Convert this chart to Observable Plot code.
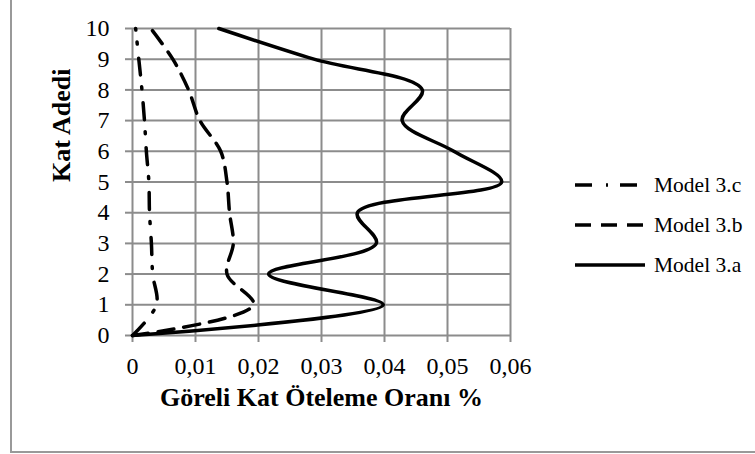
<!DOCTYPE html>
<html>
<head>
<meta charset="utf-8">
<script src="https://cdn.jsdelivr.net/npm/d3@7"></script>
<script src="https://cdn.jsdelivr.net/npm/@observablehq/plot@0.6"></script>
<style>
  html, body { margin: 0; padding: 0; background: #fff; overflow: hidden; width: 755px; height: 454px; }
  #wrap { position: relative; width: 755px; height: 454px; font-family: "Liberation Serif", "Times New Roman", serif; }
  #frame { position: absolute; left: 10px; top: -20px; width: 800px; height: 473px; box-sizing: border-box; border: 2px solid #999; }
  #chart { position: absolute; left: 0; top: 0; }
  #chart svg text { font-size: 24px; }
  #legend { position: absolute; left: 575px; top: 0; }
  .item { position: absolute; left: 0; height: 30px; width: 180px; }
  .item svg { position: absolute; left: 0; top: 0; }
  .item span { position: absolute; left: 79px; top: 0; line-height: 30px; font-size: 21.5px; color: #000; white-space: nowrap; }
</style>
</head>
<body>
<div id="wrap">
  <div id="frame"></div>
  <div id="chart"></div>
  <div id="legend"></div>
</div>
<script>
const floors = [0, 1, 2, 3, 4, 5, 6, 7, 8, 9, 10];
const model3a = [0, 0.0398, 0.0216, 0.0387, 0.0357, 0.0586, 0.0510, 0.0428, 0.0460, 0.0288, 0.0137];
const model3b = [0, 0.0192, 0.0150, 0.0160, 0.0154, 0.0150, 0.0140, 0.0107, 0.0089, 0.0064, 0.0029];
const model3c = [0, 0.0038, 0.0032, 0.0030, 0.0027, 0.0026, 0.0022, 0.0019, 0.0015, 0.0010, 0.0005];
const xTicks = [0, 0.01, 0.02, 0.03, 0.04, 0.05, 0.06];
const yTicks = [0, 1, 2, 3, 4, 5, 6, 7, 8, 9, 10];
const seriesNames = ["Model 3.c", "Model 3.b", "Model 3.a"];
const xTitle = "Göreli Kat Öteleme Oranı %";
const yTitle = "Kat Adedi";

const dashes = {"Model 3.a": null, "Model 3.b": "16,10", "Model 3.c": "17,14,2,12"};
const seriesValues = {"Model 3.a": model3a, "Model 3.b": model3b, "Model 3.c": model3c};

const rows = name => floors.map((f, i) => ({floor: f, value: seriesValues[name][i]}));
const fmt = d => d === 0 ? "0" : d.toFixed(2).replace(".", ",");
const font = '"Liberation Serif", "Times New Roman", serif';

const lineMarks = ["Model 3.a", "Model 3.b", "Model 3.c"].map(name =>
  Plot.line(rows(name), {
    x: "value", y: "floor", curve: "catmull-rom",
    stroke: "#000", strokeWidth: 3.5,
    strokeDasharray: dashes[name] || undefined
  })
);

const chart = Plot.plot({
  width: 755,
  height: 454,
  marginLeft: 132,
  marginRight: 245,
  marginTop: 28,
  marginBottom: 119,
  style: {fontFamily: font, fontSize: "24px", background: "transparent", overflow: "visible"},
  x: {domain: [0, 0.06]},
  y: {domain: [0, 10]},
  marks: [
    Plot.gridX(xTicks, {stroke: "#8c8c8c", strokeOpacity: 1, strokeWidth: 2}),
    Plot.gridY(yTicks, {stroke: "#8c8c8c", strokeOpacity: 1, strokeWidth: 2}),
    Plot.axisX(xTicks, {tickFormat: fmt, tickSize: 7, tickPadding: 14, stroke: "#8c8c8c", strokeWidth: 2, fill: "#000", label: null, fontSize: 24}),
    Plot.axisY(yTicks, {tickFormat: d => String(d), tickSize: 7, tickPadding: 16, stroke: "#8c8c8c", strokeWidth: 2, fill: "#000", label: null, fontSize: 24}),
    ...lineMarks,
    Plot.text([xTitle], {text: d => d, frameAnchor: "bottom", dy: 70, fontWeight: "bold", fill: "#000"}),
    Plot.text([yTitle], {text: d => d, frameAnchor: "left", dx: -71, rotate: -90, fontWeight: "bold", fill: "#000"})
  ]
});
d3.select(chart).selectAll("text")
  .filter(function() { return this.textContent === xTitle || this.textContent === yTitle; })
  .style("font-size", "26px");
document.getElementById("chart").appendChild(chart);

// legend
const legend = document.getElementById("legend");
const legendY = {"Model 3.c": 170, "Model 3.b": 209.5, "Model 3.a": 249.5};
seriesNames.forEach(name => {
  const item = document.createElement("div");
  item.className = "item";
  item.style.top = legendY[name] + "px";
  const d = dashes[name];
  item.innerHTML = `<svg width="75" height="30"><line x1="0" x2="70" y1="15" y2="15" stroke="#000" stroke-width="3.5" ${d ? `stroke-dasharray="${d}"` : ""}/></svg><span>${name}</span>`;
  legend.appendChild(item);
});
</script>
</body>
</html>
